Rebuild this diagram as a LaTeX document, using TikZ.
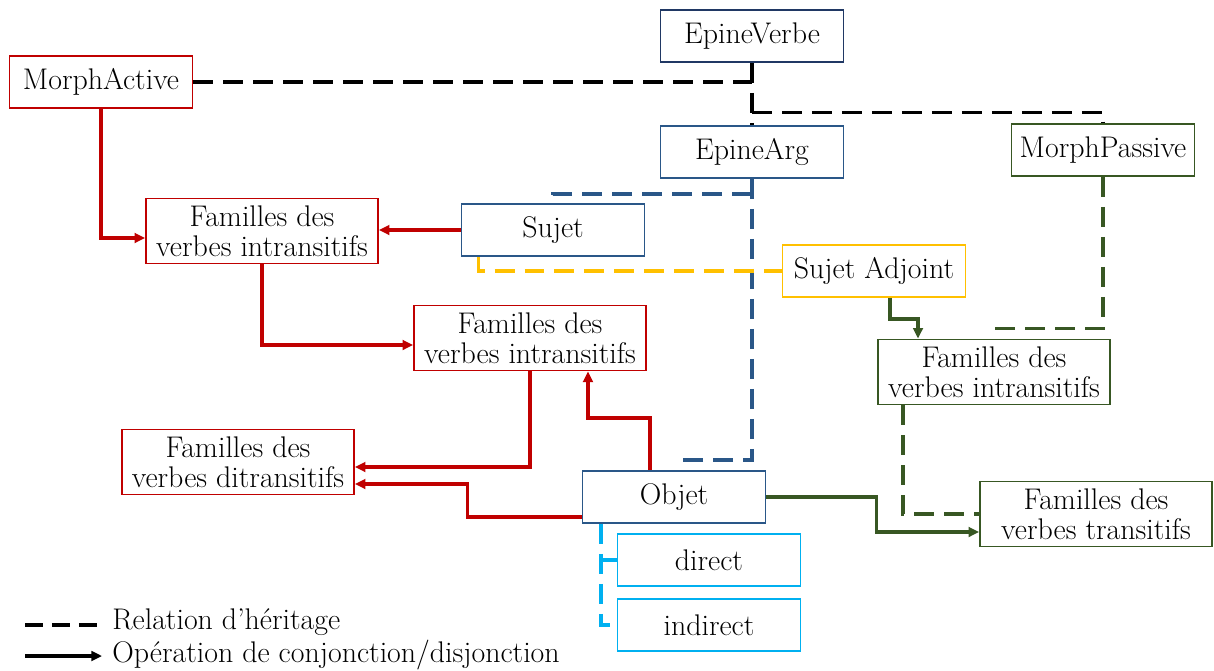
\documentclass[tikz,border=0pt]{standalone}
\usepackage{tikz}
\usetikzlibrary{arrows.meta, calc, positioning}
\usepackage{xcolor}
\definecolor{rougeF}{HTML}{C00000}
\definecolor{bleuV}{HTML}{203864}
\definecolor{bleuF}{HTML}{2A5788}
\definecolor{vertF}{HTML}{385723}
\definecolor{jauneF}{HTML}{FFC000}
\definecolor{cielF}{HTML}{00B0F0}
\tikzset{
    boite/.style={draw=#1, line width=1.1pt, fill=white, align=center, inner sep=0pt,
        minimum width=3.66cm, minimum height=1.04cm},
    famille/.style={boite=#1, minimum width=4.64cm, minimum height=1.3cm},
    herit/.style={line width=1.8pt, dash pattern=on 0.4cm off 0.2cm},
    conj/.style={line width=1.8pt, -{Triangle[length=6pt,width=5.5pt]}}
}
\begin{document}
\begin{tikzpicture}[x=0.02cm, y=-0.02cm, font=\fontsize{17}{17}\selectfont]
    \useasboundingbox (0,0) rectangle (1214,670);

    % boites
    \node[boite=bleuV] (verbe) at (752,36) {EpineVerbe};
    \node[boite=rougeF] (morphact) at (101,82) {MorphActive};
    \node[boite=bleuF] (arg) at (752,152) {EpineArg};
    \node[boite=vertF] (morphpass) at (1103,150) {MorphPassive};
    \node[famille=rougeF] (famintr1) at (262,231) {Familles des\\verbes intransitifs};
    \node[boite=bleuF] (sujet) at (553,230) {Sujet};
    \node[boite=jauneF] (sujadj) at (874,271) {Sujet Adjoint};
    \node[famille=rougeF] (famintr2) at (530,338) {Familles des\\verbes intransitifs};
    \node[famille=vertF] (famintrp) at (994,372) {Familles des\\verbes intransitifs};
    \node[famille=rougeF] (famditr) at (238,462) {Familles des\\verbes ditransitifs};
    \node[boite=bleuF] (objet) at (674,497) {Objet};
    \node[famille=vertF] (famtr) at (1096,514) {Familles des\\verbes transitifs};
    \node[boite=cielF] (direct) at (709,560) {direct};
    \node[boite=cielF] (indirect) at (709,625) {indirect};

    % heritage
    \draw[herit] (morphact.east) -- (morphact.east -| verbe.south);
    \draw[herit] (verbe.south) -- (arg.north);
    \draw[herit] ($(verbe.south)!0.8!(arg.north)$) -| (morphpass.north);
    \draw[herit, bleuF] (arg.south) |- ([yshift=0.2cm]objet.north);
    \draw[herit, bleuF] ([yshift=-0.3cm]arg.south) -| (sujet.north);
    \draw[herit, jauneF] ([xshift=0.36cm]sujet.south west) |- (sujadj.west);
    \draw[herit, vertF] (morphpass.south) |- ([yshift=0.2cm]famintrp.north);
    \draw[herit, vertF] ([xshift=-1.82cm]famintrp.south) |- (famtr.west);
    \draw[herit, cielF] ([xshift=-1.46cm]objet.south) |- (indirect.west);
    \draw[herit, cielF] ([xshift=-1.46cm]objet.south |- direct.west) -- (direct.west);

    % conjonction / disjonction
    \draw[conj, rougeF] (sujet.west) -- (sujet.west -| famintr1.east);
    \draw[conj, rougeF] (morphact.south) |- ([yshift=-0.14cm]famintr1.west);
    \draw[conj, rougeF] (famintr1.south) |- ([yshift=-0.14cm]famintr2.west);
    \draw[conj, rougeF] (famintr2.south) |- ([yshift=-0.1cm]famditr.east);
    \draw[conj, rougeF] ([xshift=-0.48cm]objet.north) -- ++(0,-52) -| ([xshift=1.16cm]famintr2.south);
    \draw[conj, rougeF] ([yshift=-0.4cm]objet.west) -- ++(-114,0) |- ([yshift=-0.44cm]famditr.east);
    \draw[conj, vertF] (objet.east) -- ++(110,0) |- ([yshift=-0.36cm]famtr.west);
    \draw[conj, vertF] ([xshift=0.32cm]sujadj.south) -- ++(0,21) -| ([xshift=-1.52cm]famintrp.north);

    % legende
    \node[anchor=west, inner sep=0pt] (leg1) at (112,622) {Relation d’héritage};
    \node[anchor=west, inner sep=0pt] (leg2) at (112,655) {Opération de conjonction/disjonction};
    \coordinate (l1) at (25,625);
    \coordinate (l2) at (25,656);
    \draw[herit, dash pattern=on 0.36cm off 0.18cm] (l1) -- ([xshift=-0.3cm]leg1.west |- l1);
    \draw[conj] (l2) -- ([xshift=-0.2cm]leg2.west |- l2);
\end{tikzpicture}
\end{document}
